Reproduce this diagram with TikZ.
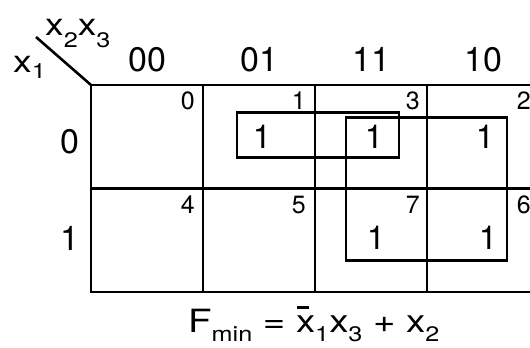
\documentclass[tikz,border=0pt]{standalone}
\usepackage{fontspec}
\setmainfont{TeX Gyre Heros}
\newfontfamily\widefont{TeX Gyre Heros}[FakeStretch=1.2]
\usetikzlibrary{positioning,calc}
\tikzset{
  cell/.style ={draw,line width=2.8bp,outer sep=0pt,inner sep=0pt,
                minimum width=112bp,minimum height=103.5bp},
  idx/.style  ={anchor=north east,inner sep=0pt,font=\fontsize{25bp}{27bp}\selectfont},
  one/.style  ={inner sep=0pt,font=\fontsize{33bp}{35bp}\selectfont},
  hdr/.style  ={inner sep=0pt,font=\fontsize{34bp}{36bp}\selectfont},
  var/.style  ={inner sep=0pt,anchor=base west,font=\widefont\fontsize{31bp}{33bp}\selectfont},
  res/.style  ={var,font=\widefont\fontsize{32bp}{34bp}\selectfont},
  grp/.style  ={line width=2.8bp},
  diag/.style ={line width=2.6bp},
}
\newcommand{\sub}[2][-9bp]{\raisebox{#1}{\fontsize{21bp}{23bp}\selectfont #2}}
\newcommand{\xbar}{\makebox[0pt][l]{\hspace{1bp}\rule[23bp]{12bp}{2.6bp}}x}

\begin{document}
\begin{tikzpicture}[x=1bp,y=-1bp]
\useasboundingbox (0,0) rectangle (530,347);
\clip (0,0) rectangle (530,347);
% the map, cells in Gray order
\node[cell,anchor=north west] (m0) at (91,85) {};
\node[cell,right=0bp of m0] (m1) {};
\node[cell,right=0bp of m1] (m3) {};
\node[cell,right=0bp of m3] (m2) {};
\node[cell,below=0bp of m0] (m4) {};
\node[cell,right=0bp of m4] (m5) {};
\node[cell,right=0bp of m5] (m7) {};
\node[cell,right=0bp of m7] (m6) {};
% cell numbers
\node[idx] (i0) at ($(m0.north east)+(-8,7)$) {0};
\node[idx] (i1) at ($(m1.north east)+(-9,7)$) {1};
\node[idx] (i3) at ($(m3.north east)+(-7,7)$) {3};
\node[idx] (i2) at ($(m2.north east)+(-8,7)$) {2};
\node[idx] (i4) at ($(m4.north east)+(-8,7)$) {4};
\node[idx] (i5) at ($(m5.north east)+(-9,7)$) {5};
\node[idx] (i7) at ($(m7.north east)+(-7,7)$) {7};
\node[idx] (i6) at ($(m6.north east)+(-8,7)$) {6};
% ones
\node[one,xshift=3bp] (o1) at (m1) {1};
\node[one,xshift=3bp] (o3) at (m3) {1};
\node[one,xshift=2bp] (o2) at (m2) {1};
\node[one,xshift=5bp,yshift=2bp] (o7) at (m7) {1};
\node[one,xshift=5bp,yshift=2bp] (o6) at (m6) {1};
% groups
\draw[grp] ($(o1)+(-25,-24)$) rectangle ($(o3)+(25,21)$);
\draw[grp] ($(o3)+(-28,-19)$) rectangle ($(o6)+(19,22)$);
% column and row headings
\node[hdr,above=13bp of m0] (h00) {00};
\node[hdr,above=13bp of m1] (h01) {01};
\node[hdr,above=13bp of m3] (h11) {11};
\node[hdr,above=13bp of m2] (h10) {10};
\node[hdr,left=11bp of m0,yshift=-5bp] (r0) {0};
\node[hdr,left=11bp of m4,yshift=2bp] (r1) {1};
% corner
\coordinate (dg) at ($(m0.north west)+(-55,-48)$);
\draw[diag] (m0.north west) -- (dg);
\node[var] (vcol) at ($(dg)+(9,-2)$) {x\sub[-12bp]{2}x\sub[-12bp]{3}};
\node[var] (vrow) at ($(dg)+(-23,35)$) {x\sub[-6bp]{1}};
% result
\node[res] (fmin) at ($(m4.south west)+(97,40)$)
  {F\sub{min} = \xbar\sub{1}x\sub{3} + x\sub{2}};
\end{tikzpicture}
\end{document}
